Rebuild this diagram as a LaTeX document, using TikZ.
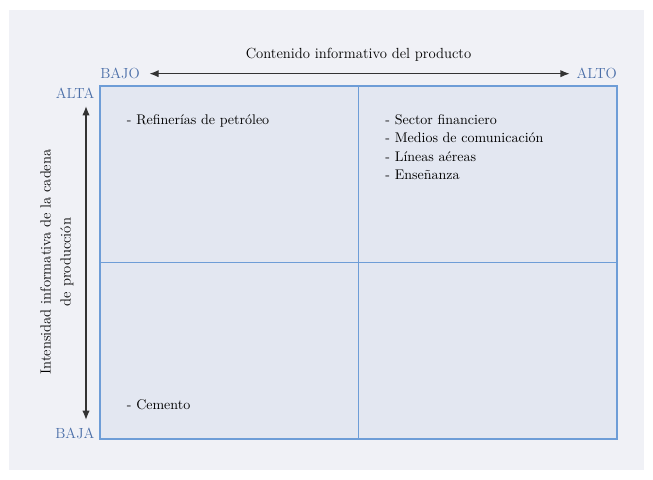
\documentclass[tikz,border=0pt]{standalone}
\usepackage{amsmath}
\usetikzlibrary{positioning,arrows,arrows.meta}

\definecolor{fondo}{HTML}{F0F1F6}
\definecolor{celda}{HTML}{E3E7F1}
\definecolor{borde}{HTML}{6E9DD7}
\definecolor{etiq}{HTML}{4A6EA8}

\tikzset{
  cuadro/.style={fill=celda,outer sep=0pt,inner sep=0pt,
    minimum width=193.9pt,minimum height=132.4pt},
  extremo/.style={text=etiq,inner sep=0pt,font=\fontsize{11}{13}\selectfont},
  item/.style={inner sep=0pt,align=left,font=\fontsize{10.5}{13.9}\selectfont},
  flecha/.style={{Latex[length=7pt,width=5.5pt]}-{Latex[length=7pt,width=5.5pt]},
    draw=black!80,line width=1pt}
}

\begin{document}
\begin{tikzpicture}[x=0.75pt,y=-0.75pt]
  \useasboundingbox (0,0) rectangle (653,479);
  \fill[fondo] (9,10) rectangle (644,470);
  \node[cuadro,anchor=north west] (q1) at (100,86) {};
  \node[cuadro,right=0pt of q1] (q2) {};
  \node[cuadro,below=0pt of q1] (q3) {};
  \node[cuadro,below=0pt of q2] (q4) {};
  \foreach \q in {q1,q2,q3,q4}
    \draw[borde,line width=1pt] (\q.north west) rectangle (\q.south east);

  \node[extremo,above right=5pt and 0pt of q1.north west] (bajo) {BAJO};
  \node[extremo,above left=5pt and 0pt of q2.north east] (alto) {ALTO};
  \node[extremo,below left=1pt and 4pt of q1.north west] (alta) {ALTA};
  \node[extremo,above left=0pt and 4pt of q3.south west] (baja) {BAJA};
  \draw[flecha,shorten <=7pt,shorten >=5pt] (bajo) -- (alto);
  \node[item,font=\fontsize{11}{13}\selectfont] (titulo) at (358.5,55) {Contenido informativo del producto};

  \coordinate (arriba) at (86,106);
  \coordinate (abajo) at (86,420);
  \draw[flecha] (abajo) -- (arriba);
  \node[item,align=center,rotate=90,font=\fontsize{11}{15}\selectfont] (eje) at (57,262)
    {Intensidad informativa de la cadena\\de producción};

  \node[item,below right=21pt and 20pt of q1.north west] (refin) {- Refinerías de petróleo};
  \node[item,below right=21pt and 20pt of q2.north west] (serv)
    {- Sector financiero\\- Medios de comunicación\\- Líneas aéreas\\- Enseñanza};
  \node[item,above right=22pt and 20pt of q3.south west] (cem) {- Cemento};
\end{tikzpicture}
\end{document}
